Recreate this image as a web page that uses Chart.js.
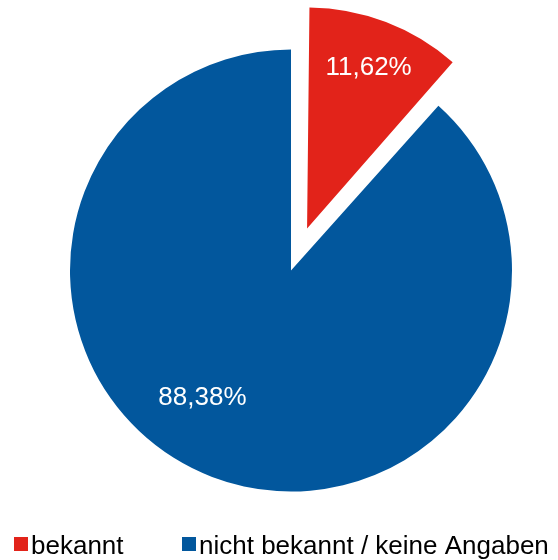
<!DOCTYPE html>
<html lang="de">
<head>
  <meta charset="UTF-8">
  <title>Bekannt / nicht bekannt</title>
  <script src="https://cdn.jsdelivr.net/npm/chart.js"></script>
  <style>
    html, body {
      margin: 0;
      padding: 0;
      background: #ffffff;
    }
    #wrap {
      width: 558px;
      height: 560px;
    }
  </style>
</head>
<body>
  <div id="wrap">
    <canvas id="pie"></canvas>
  </div>

  <script>
    // Daten
    const labels = ['bekannt', 'nicht bekannt / keine Angaben'];
    const values = [11.62, 88.38];
    const colors = ['#e2231a', '#02579d'];

    // Lage der Beschriftungen (Anteil des Radius, Winkelverschiebung in Grad)
    const labelRadius = [0.78, 0.70];
    const labelShift = [0, 14];
    const legendX = [14, 182];
    const RADIUS = 221;
    const EXPLODE = 45; // sichtbarer Versatz in px (Chart.js teilt offset durch 4)

    const FONT = "'Liberation Sans', Arial, sans-serif";

    function fmt(v) {
      return v.toFixed(2).replace('.', ',') + '%';
    }

    // herausgezogenes Segment soll den gleichen Radius behalten
    const keepRadius = {
      id: 'keepRadius',
      beforeDatasetsDraw(chart) {
        const meta = chart.getDatasetMeta(0);
        meta.data.forEach(arc => {
          const off = (arc.options.offset || 0) / 4;
          const fix = 1 - Math.sin(Math.min(Math.PI, arc.circumference || 0));
          arc.outerRadius = RADIUS - off * fix;
        });
      }
    };

    // Prozentwerte in den Segmenten
    const sliceLabels = {
      id: 'sliceLabels',
      afterDatasetsDraw(chart) {
        const ctx = chart.ctx;
        const meta = chart.getDatasetMeta(0);
        ctx.save();
        ctx.font = '26px ' + FONT;
        ctx.fillStyle = '#ffffff';
        ctx.textAlign = 'center';
        ctx.textBaseline = 'middle';
        meta.data.forEach((arc, i) => {
          const mid = (arc.startAngle + arc.endAngle) / 2;
          const off = (arc.options.offset || 0) / 4;
          const cx = arc.x + Math.cos(mid) * off;
          const cy = arc.y + Math.sin(mid) * off;
          const a = mid + labelShift[i] * Math.PI / 180;
          const r = RADIUS * labelRadius[i];
          ctx.fillText(fmt(values[i]), cx + Math.cos(a) * r, cy + Math.sin(a) * r);
        });
        ctx.restore();
      }
    };

    // Legende unten
    const bottomLegend = {
      id: 'bottomLegend',
      afterDraw(chart) {
        const ctx = chart.ctx;
        ctx.save();
        ctx.font = '26px ' + FONT;
        ctx.textBaseline = 'alphabetic';
        labels.forEach((lab, i) => {
          const x = legendX[i];
          ctx.fillStyle = colors[i];
          ctx.fillRect(x, 537, 14, 14);
          ctx.fillStyle = '#000000';
          ctx.fillText(lab, x + 17, 554);
        });
        ctx.restore();
      }
    };

    new Chart(document.getElementById('pie'), {
      type: 'pie',
      data: {
        labels: labels,
        datasets: [{
          data: values,
          backgroundColor: colors,
          borderWidth: 0,
          offset: [EXPLODE * 4, 0]
        }]
      },
      options: {
        responsive: true,
        maintainAspectRatio: false,
        animation: false,
        radius: RADIUS,
        layout: {
          padding: { left: 24, right: 0, top: 0, bottom: 19 }
        },
        plugins: {
          legend: { display: false },
          tooltip: { enabled: false }
        }
      },
      plugins: [keepRadius, sliceLabels, bottomLegend]
    });
  </script>
</body>
</html>
